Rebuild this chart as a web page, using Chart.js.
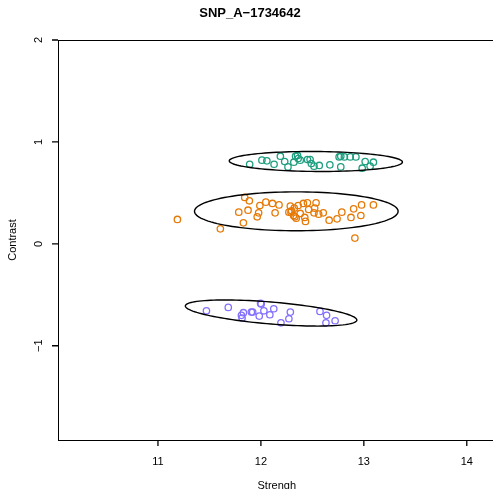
<!DOCTYPE html>
<html>
<head>
<meta charset="utf-8">
<script src="https://cdn.jsdelivr.net/npm/chart.js"></script>
<style>
  html, body { margin: 0; padding: 0; background: #fff; overflow: hidden; }
  #wrap { width: 493px; height: 489px; overflow: hidden; }
</style>
</head>
<body>
<div id="wrap"><canvas id="chart" width="500" height="496"></canvas></div>
<script>
// valeurs
const xTicks = [11, 12, 13, 14];
const yTicks = [-1, 0, 1, 2];
const yTickLabels = ['\u22121', '0', '1', '2'];

const greenX = [11.891, 12.010, 12.058, 12.128, 12.189, 12.231, 12.263, 12.320, 12.337, 12.356, 12.362, 12.382, 12.452, 12.478, 12.490, 12.516, 12.567, 12.670, 12.760, 12.776, 12.776, 12.811, 12.868, 12.923, 12.984, 13.013, 13.061, 13.093];
const greenY = [0.781, 0.821, 0.814, 0.781, 0.860, 0.808, 0.755, 0.801, 0.860, 0.867, 0.837, 0.821, 0.827, 0.827, 0.788, 0.762, 0.769, 0.775, 0.853, 0.860, 0.755, 0.853, 0.853, 0.853, 0.742, 0.808, 0.762, 0.801];

const orangeX = [11.189, 11.606, 11.785, 11.830, 11.843, 11.875, 11.888, 11.964, 11.978, 11.990, 12.048, 12.112, 12.138, 12.176, 12.272, 12.286, 12.292, 12.298, 12.317, 12.324, 12.330, 12.343, 12.362, 12.382, 12.413, 12.426, 12.433, 12.452, 12.464, 12.516, 12.522, 12.536, 12.561, 12.606, 12.663, 12.740, 12.786, 12.875, 12.901, 12.913, 12.971, 12.978, 13.093];
const orangeY = [0.239, 0.147, 0.311, 0.206, 0.455, 0.330, 0.422, 0.265, 0.304, 0.376, 0.409, 0.396, 0.304, 0.382, 0.311, 0.370, 0.311, 0.324, 0.278, 0.350, 0.265, 0.252, 0.376, 0.298, 0.396, 0.259, 0.220, 0.402, 0.337, 0.304, 0.350, 0.402, 0.291, 0.304, 0.232, 0.245, 0.311, 0.259, 0.343, 0.056, 0.278, 0.382, 0.382];

const purpleX = [11.471, 11.683, 11.811, 11.817, 11.830, 11.907, 11.920, 11.997, 12.003, 11.984, 12.029, 12.087, 12.125, 12.195, 12.272, 12.286, 12.574, 12.638, 12.632, 12.721];
const purpleY = [-0.657, -0.624, -0.702, -0.728, -0.676, -0.670, -0.670, -0.584, -0.591, -0.709, -0.657, -0.696, -0.637, -0.775, -0.735, -0.670, -0.663, -0.702, -0.775, -0.755];

// ellipses : centre, demi-diametre horizontal (ux, uy), demi-hauteur au centre (h)
const ellipseCx = [12.534, 12.344, 12.099];
const ellipseCy = [0.808, 0.319, -0.679];
const ellipseUx = [0.841, 0.989, 0.833];
const ellipseUy = [-0.006, 0, -0.069];
const ellipseH = [0.098, 0.191, 0.108];

const xMin = 10.029, xMax = 14.279;
const yMin = -1.925, yMax = 2.0;

const FONT = 'Liberation Sans, Arial, Helvetica, sans-serif';

function toPoints(xs, ys) {
    return xs.map((x, i) => ({ x: x, y: ys[i] }));
}

function makeSet(xs, ys, color) {
    return {
        data: toPoints(xs, ys),
        xAxisID: 'x',
        yAxisID: 'y',
        showLine: false,
        pointRadius: 3.2,
        pointHoverRadius: 3.2,
        pointBorderWidth: 1.3,
        borderColor: color,
        backgroundColor: 'rgba(0,0,0,0)'
    };
}

// ellipses, graduations et étiquettes de l'axe y (tournées comme dans R)
const extras = {
    id: 'extras',
    afterDatasetsDraw(chart) {
        const ctx = chart.ctx;
        const sx = chart.scales.x, sy = chart.scales.y;
        ctx.save();
        ctx.strokeStyle = '#000';
        ctx.lineWidth = 1.4;
        for (let k = 0; k < ellipseCx.length; k++) {
            ctx.beginPath();
            for (let i = 0; i <= 120; i++) {
                const t = i / 120 * Math.PI * 2;
                const vx = ellipseCx[k] + ellipseUx[k] * Math.cos(t);
                const vy = ellipseCy[k] + ellipseUy[k] * Math.cos(t) + ellipseH[k] * Math.sin(t);
                const px = sx.getPixelForValue(vx), py = sy.getPixelForValue(vy);
                if (i === 0) ctx.moveTo(px, py); else ctx.lineTo(px, py);
            }
            ctx.closePath();
            ctx.stroke();
        }
        ctx.restore();
    },
    afterDraw(chart) {
        const ctx = chart.ctx;
        const sx = chart.scales.x, sy = chart.scales.y;
        const left = sx.left, bottom = sy.bottom;
        ctx.save();
        ctx.strokeStyle = '#000';
        ctx.lineWidth = 1.3;
        ctx.beginPath();
        xTicks.forEach(v => {
            const px = sx.getPixelForValue(v);
            ctx.moveTo(px, bottom);
            ctx.lineTo(px, bottom + 6);
        });
        yTicks.forEach(v => {
            const py = sy.getPixelForValue(v);
            ctx.moveTo(left, py);
            ctx.lineTo(left - 6, py);
        });
        ctx.stroke();

        ctx.fillStyle = '#000';
        ctx.font = '11px ' + FONT;
        ctx.textAlign = 'center';
        ctx.textBaseline = 'middle';
        yTicks.forEach((v, i) => {
            ctx.save();
            ctx.translate(39, sy.getPixelForValue(v));
            ctx.rotate(-Math.PI / 2);
            ctx.fillText(yTickLabels[i], 0, 0);
            ctx.restore();
        });
        ctx.restore();
    }
};

const ctx = document.getElementById('chart').getContext('2d');
const chart = new Chart(ctx, {
    type: 'scatter',
    data: {
        datasets: [
            makeSet(greenX, greenY, '#1f9f80'),
            makeSet(orangeX, orangeY, '#e67a08'),
            makeSet(purpleX, purpleY, '#8470ff')
        ]
    },
    options: {
        responsive: false,
        animation: false,
        layout: { padding: 0 },
        plugins: {
            legend: { display: false },
            tooltip: { enabled: false },
            title: {
                display: true,
                text: 'SNP_A\u22121734642',
                color: '#000',
                font: { family: FONT, size: 13, weight: 'bold' },
                padding: { top: 5.7, bottom: 18.7 }
            }
        },
        scales: {
            x: {
                type: 'linear',
                position: 'bottom',
                min: xMin,
                max: xMax,
                afterBuildTicks: s => { s.ticks = xTicks.map(v => ({ value: v })); },
                afterFit: s => { s.height = 56; },
                ticks: { color: '#000', font: { family: FONT, size: 11 }, padding: 7 },
                grid: { display: false },
                border: { display: true, color: '#000', width: 1 },
                title: {
                    display: true, text: 'Strengh', color: '#000',
                    font: { family: FONT, size: 11 },
                    padding: { top: 0, bottom: 3 }
                }
            },
            xTop: {
                type: 'linear',
                position: 'top',
                min: xMin,
                max: xMax,
                afterFit: s => { s.height = 0; },
                ticks: { display: false },
                grid: { display: false },
                border: { display: true, color: '#000', width: 1 }
            },
            y: {
                type: 'linear',
                position: 'left',
                min: yMin,
                max: yMax,
                afterBuildTicks: s => { s.ticks = yTicks.map(v => ({ value: v })); },
                afterFit: s => { s.width = 58; },
                ticks: { display: false },
                grid: { display: false },
                border: { display: true, color: '#000', width: 1 },
                title: {
                    display: true, text: 'Contrast', color: '#000',
                    font: { family: FONT, size: 11 },
                    padding: { top: 6.4, bottom: 0 }
                }
            }
        }
    },
    plugins: [extras]
});
</script>
</body>
</html>
